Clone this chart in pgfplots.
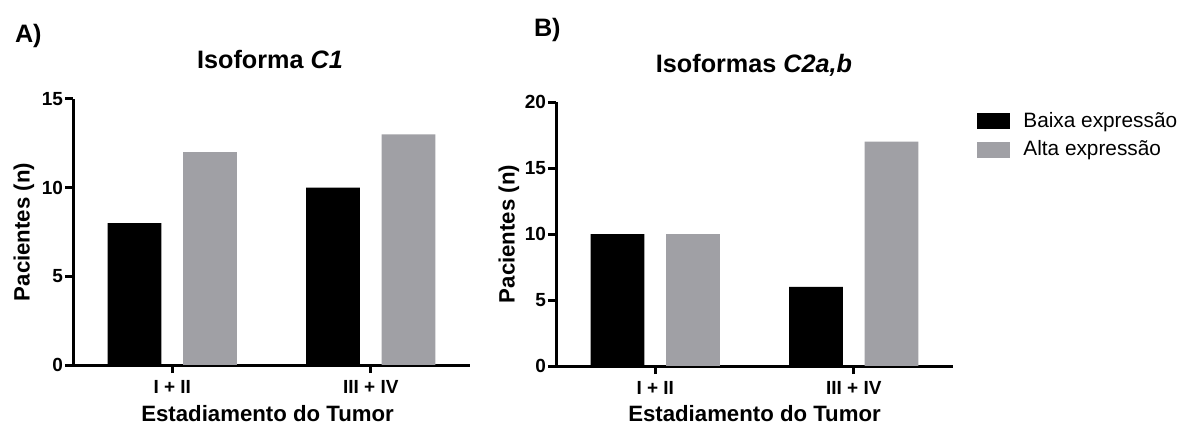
\documentclass[border=0pt]{standalone}
\usepackage{fontspec}
\setmainfont{Liberation Sans}
\usepackage{pgfplots}
\pgfplotsset{compat=1.18}
\definecolor{bargray}{RGB}{160,160,165}
\newcommand{\tickfont}{\fontsize{9.5bp}{11bp}\selectfont\bfseries}
\newcommand{\labfont}{\fontsize{11.1bp}{13bp}\selectfont\bfseries}
\newcommand{\titfont}{\fontsize{12.6bp}{15bp}\selectfont\bfseries}
\newcommand{\legfont}{\fontsize{10.4bp}{12.5bp}\selectfont}
\pgfplotsset{panel/.style={
  scale only axis, width=198.5bp,
  axis lines*=left, axis line style={line width=1.5bp, black},
  xmin=-0.5, xmax=1.5, ymin=0,
  xtick={0,1}, xticklabels={I + II, III + IV},
  tick style={line width=1.5bp, black}, major tick length=4bp, tick align=outside,
  xtick pos=bottom, ytick pos=left, minor tick num=0,
  ybar, bar width=0.27, bar shift=0pt,
  ticklabel style={font=\tickfont},
  yticklabel style={xshift=2.5bp},
  /pgf/number format/assume math mode=true,
  xlabel={Estadiamento do Tumor},
  ylabel={Pacientes (n)},
  label style={font=\labfont},
}}
\begin{document}
\begin{tikzpicture}
\path[use as bounding box] (0,0) rectangle (591.5bp,212.5bp);
\begin{axis}[panel, at={(36.5bp,30bp)}, anchor=south west, height=133bp,
  ymax=15, ytick={0,5,10,15},
  x label style={at={(axis description cs:0.49,0)}, anchor=base, yshift=-28bp},
  y label style={at={(axis description cs:-0.1235,0.5)}, anchor=center},
]
\addplot[fill=black, draw=none] coordinates {(-0.19,8) (0.81,10)};
\addplot[fill=bargray, draw=none] coordinates {(0.19,12) (1.19,13)};
\end{axis}
\begin{axis}[panel, at={(278bp,29.5bp)}, anchor=south west, height=132bp,
  ymax=20, ytick={0,5,10,15,20},
  x label style={at={(axis description cs:0.5,0)}, anchor=base, yshift=-27.5bp},
  y label style={at={(axis description cs:-0.1185,0.5)}, anchor=center},
  legend style={at={(axis description cs:1,1)}, anchor=north west, xshift=12bp, yshift=-5bp,
    draw=none, fill=none, inner sep=0pt, font=\legfont, row sep=5bp,
    nodes={inner sep=0pt, anchor=base west}},
  legend cell align=left,
  legend image code/.code={\fill[#1] (0bp,-1bp) rectangle (16.5bp,7bp);},
]
\addplot[fill=black, draw=none] coordinates {(-0.19,10) (0.81,6)};
\addlegendentry{\hspace{6.5bp}Baixa expressão}
\addplot[fill=bargray, draw=none] coordinates {(0.19,10) (1.19,17)};
\addlegendentry{\hspace{6.5bp}Alta expressão}
\end{axis}
\node[anchor=base, font=\titfont] at (135bp,178bp) {Isoforma \textit{C1}};
\node[anchor=base, font=\titfont] at (377bp,176bp) {Isoformas \textit{C2a,b}};
\node[anchor=base west, font=\titfont] at (4bp,191bp) {A)};
\node[anchor=base west, font=\titfont] at (263.5bp,194bp) {B)};
\end{tikzpicture}
\end{document}
